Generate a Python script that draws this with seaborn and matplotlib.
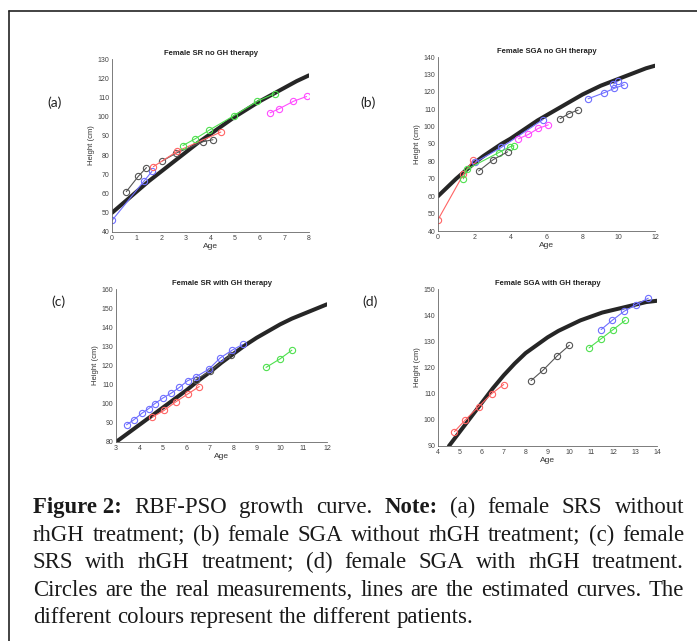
import matplotlib
matplotlib.use("Agg")
import matplotlib.pyplot as plt
import seaborn as sns
from matplotlib.lines import Line2D

W, H = 697, 641

# ---- panel (a): Female SR no GH therapy
a_curve_age = [0, 0.5, 1, 1.5, 2, 2.5, 3, 3.5, 4, 4.5, 5, 5.5, 6, 6.5, 7, 7.5, 8]
a_curve_height = [50, 55.5, 61, 66.5, 71.5, 76.5, 81.5, 86.5, 91, 95.5, 100, 104,
                  108, 111.5, 115, 118.5, 121.5]
a_series = [
    ("blue", [0, 1.3, 1.62], [46, 66.5, 71.5]),
    ("gray", [0.58, 1.07, 1.4], [61, 69, 73.5]),
    ("gray", [2.05, 2.6, 3.7, 4.1], [77, 81, 87, 88]),
    ("red", [1.68, 2.65, 4.42], [74, 82, 92]),
    ("green", [2.88, 3.38, 3.95, 4.95, 5.9, 6.6], [85, 88.5, 93, 100.5, 108, 112]),
    ("magenta", [6.42, 6.77, 7.37, 7.9], [102, 104, 108, 110.5]),
]

# ---- panel (b): Female SGA no GH therapy
b_curve_age = [0, 0.5, 1, 1.5, 2, 2.5, 3, 3.5, 4, 4.5, 5, 5.5, 6, 6.5, 7, 7.5, 8,
               8.5, 9, 9.5, 10, 10.5, 11, 11.5, 12]
b_curve_height = [60, 65, 70, 74.5, 79, 83, 86.5, 90, 93, 96.5, 100, 103.5, 106.5,
                  109.5, 112.5, 115.5, 118.5, 121, 123.5, 125.5, 127.5, 129.5, 131.5,
                  133.5, 135]
b_series = [
    ("red", [0, 1.4, 1.95], [46.5, 72.5, 81]),
    ("blue", [2.05, 3.5, 5.8], [79.5, 88, 104]),
    ("blue", [9.7, 9.95], [124.5, 126]),
    ("blue", [8.3, 9.2, 9.75, 10.3], [116, 119.5, 122, 124]),
    ("green", [1.4, 1.6, 3.35, 4.0, 4.2], [70, 75.5, 85, 88.5, 89]),
    ("gray", [2.25, 3.05, 3.85], [74.5, 81, 85.5]),
    ("magenta", [4.45, 5.0, 5.55, 6.1], [93, 95.5, 99, 101]),
    ("gray", [6.75, 7.25, 7.75], [104.5, 107.5, 109.5]),
]

# ---- panel (c): Female SR with GH therapy
c_curve_age = [3, 3.5, 4, 4.5, 5, 5.5, 6, 6.5, 7, 7.5, 8, 8.5, 9, 9.5, 10, 10.5,
               11, 11.5, 12]
c_curve_height = [80, 84.5, 89, 93.5, 98, 102.5, 107, 112, 116.5, 121.5, 126, 130.5,
                  134.5, 138, 141.5, 144.5, 147, 149.5, 152]
c_series = [
    ("gray", [6.4, 7.0, 7.9], [112.5, 117, 125.5]),
    ("blue", [3.45, 3.75, 4.1, 4.4, 4.65, 5.0, 5.35, 5.7, 6.05, 6.4, 6.95, 7.45, 7.95, 8.4],
     [89, 91.5, 95, 97.5, 100, 103, 105.5, 108.5, 112, 114, 118, 124, 128, 131]),
    ("red", [4.55, 5.05, 5.55, 6.05, 6.55], [93, 96.5, 101, 105, 109]),
    ("green", [9.4, 10.0, 10.5], [119, 123.5, 128]),
]

# ---- panel (d): Female SGA with GH therapy
d_curve_age = [4.5, 5, 5.5, 6, 6.5, 7, 7.5, 8, 8.5, 9, 9.5, 10, 10.5, 11, 11.5, 12,
               12.5, 13, 13.5, 14]
d_curve_height = [90, 95.5, 101, 106.5, 112, 117, 121.5, 125.5, 128.5, 131.5, 134,
                  136, 138, 139.5, 141, 142, 143, 144, 145, 145.5]
d_series = [
    ("red", [4.75, 5.25, 5.85, 6.45, 7.0], [95.5, 100, 105, 110, 113.5]),
    ("gray", [8.25, 8.8, 9.45, 10.0], [115, 119, 124.5, 128.5]),
    ("green", [10.9, 11.45, 12.0, 12.55], [127.5, 131, 134.5, 138]),
    ("blue", [11.45, 11.95, 12.5, 13.05, 13.6], [134.5, 138, 141.5, 144, 146.5]),
]

palette = {"blue": "#6f6fff", "red": "#ff6464", "green": "#4fe04f",
           "gray": "#555555", "magenta": "#ff4cff"}

sns.set_theme(style="white")
plt.rcParams["font.family"] = ["Liberation Sans", "DejaVu Sans"]

fig = plt.figure(figsize=(W / 100, H / 100), dpi=100)


def rect(x0, x1, y0, y1):
    return [x0 / W, 1 - y1 / H, (x1 - x0) / W, (y1 - y0) / H]


def draw_panel(ax, cx, cy, series, xlim, ylim, xticks, yticks, title):
    sns.lineplot(x=cx, y=cy, ax=ax, color="#262626", lw=2.9, sort=False,
                 solid_joinstyle="round")
    for col, xs, ys in series:
        c = palette[col]
        sns.lineplot(x=xs, y=ys, ax=ax, sort=False, color=c, lw=0.8,
                     marker="o", markersize=4.5, markerfacecolor="none",
                     markeredgecolor=c, markeredgewidth=0.8)
    ax.set_xlim(*xlim)
    ax.set_ylim(*ylim)
    ax.set_xticks(xticks)
    ax.set_yticks(yticks)
    ax.tick_params(direction="in", length=2, width=0.5, labelsize=5,
                   colors="#444444", pad=2)
    for s in ["top", "right"]:
        ax.spines[s].set_visible(False)
    for s in ["left", "bottom"]:
        ax.spines[s].set_color("#666666")
        ax.spines[s].set_linewidth(0.6)
    ax.set_xlabel("Age", fontsize=6, color="#333333", labelpad=1)
    ax.set_ylabel("Height (cm)", fontsize=5.5, color="#333333", labelpad=2)
    ax.set_title(title, fontsize=5.5, fontweight="bold", color="#222222", pad=3)


ax_a = fig.add_axes(rect(112, 309, 59, 232))
draw_panel(ax_a, a_curve_age, a_curve_height, a_series, (0, 8), (40, 130),
           range(0, 9), range(40, 131, 10), "Female SR no GH therapy")
ax_b = fig.add_axes(rect(438, 655, 57, 231))
draw_panel(ax_b, b_curve_age, b_curve_height, b_series, (0, 12), (40, 140),
           range(0, 13, 2), range(40, 141, 10), "Female SGA no GH therapy")
ax_c = fig.add_axes(rect(116, 327, 289, 442))
draw_panel(ax_c, c_curve_age, c_curve_height, c_series, (3, 12), (80, 160),
           range(3, 13), range(80, 161, 10), "Female SR with GH therapy")
ax_d = fig.add_axes(rect(438, 657, 289, 446))
draw_panel(ax_d, d_curve_age, d_curve_height, d_series, (4, 14), (90, 150),
           range(4, 15), range(90, 151, 10), "Female SGA with GH therapy")

# panel letters
for lab, x, y in [("(a)", 55, 103), ("(b)", 368, 103), ("(c)", 58, 302), ("(d)", 370, 302)]:
    fig.text(x / W, 1 - y / H, lab, fontsize=10, family=["Lato", "DejaVu Sans"],
             color="#222222", ha="center", va="center")

# frame around the figure
fig.add_artist(Line2D([9 / W, 9 / W], [0, 1 - 11 / H], transform=fig.transFigure,
                      color="#222222", lw=1.2))
fig.add_artist(Line2D([9 / W, 1], [1 - 11 / H, 1 - 11 / H], transform=fig.transFigure,
                      color="#222222", lw=1.2))

# caption (justified)
caption_lines = [
    [("Figure 2:", True), ("RBF-PSO", False), ("growth", False), ("curve.", False),
     ("Note:", True), ("(a)", False), ("female", False), ("SRS", False), ("without", False)],
    [(w, False) for w in "rhGH treatment; (b) female SGA without rhGH treatment; (c) female".split()],
    [(w, False) for w in "SRS with rhGH treatment; (d) female SGA with rhGH treatment.".split()],
    [(w, False) for w in "Circles are the real measurements, lines are the estimated curves. The".split()],
    [(w, False) for w in "different colours represent the different patients.".split()],
]
caption_base = [513, 541, 568, 596, 623]
cap_x0, cap_x1 = 33, 684
serif = ["Liberation Serif", "DejaVu Serif"]
renderer = fig.canvas.get_renderer()

probe = fig.text(0, 0, "different colours represent the different patients.",
                 fontsize=10, family=serif)
cap_size = 10 * 439 / probe.get_window_extent(renderer).width
probe.remove()
space_px = cap_size * 0.25 * 100 / 72

for i, (words, yb) in enumerate(zip(caption_lines, caption_base)):
    texts = [fig.text(0, 1 - yb / H, w, fontsize=cap_size, family=serif,
                      fontweight="bold" if b else "normal", color="#1a1a1a",
                      va="baseline") for w, b in words]
    widths = [t.get_window_extent(renderer).width for t in texts]
    if i < len(caption_lines) - 1:
        gap = (cap_x1 - cap_x0 - sum(widths)) / (len(words) - 1)
    else:
        gap = space_px
    x = cap_x0
    for t, wd in zip(texts, widths):
        t.set_x(x / W)
        x += wd + gap

fig.savefig("out.png", dpi=100)
